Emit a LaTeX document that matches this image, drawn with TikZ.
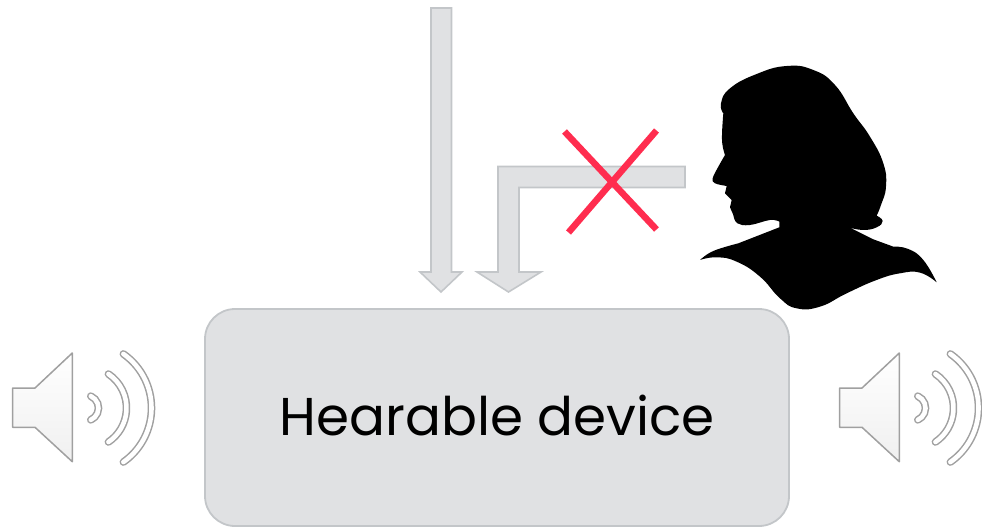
\documentclass[tikz,border=0pt]{standalone}
\usepackage{fontspec}
\setmainfont{Poppins}
\usepackage{xcolor}
\usepackage{tikz}
\usetikzlibrary{positioning}
\definecolor{devfill}{HTML}{E0E1E3}
\definecolor{devline}{HTML}{C3C6C9}
\definecolor{crossred}{HTML}{FF2D4F}
\definecolor{spkline}{HTML}{A0A0A0}

\begin{document}
\begin{tikzpicture}[
    x=1pt, y=-1pt,
    device/.style={rectangle, rounded corners=30pt, draw=devline, fill=devfill, line width=1.8pt,
                   minimum width=584pt, minimum height=217pt, align=center, text depth=5pt,
                   font=\fontsize{53.2}{62}\selectfont},
    blockarrow/.style={draw=devline, fill=devfill, line width=1.6pt, line join=miter},
    crossline/.style={draw=crossred, line width=6.5pt},
    speaker/.pic={
        \draw[draw=spkline, line width=1.5pt, line join=round, top color=white, bottom color=black!6]
            (12.7,48) -- (35,48) -- (72.3,13) -- (72.3,121.7) -- (35,87.3) -- (12.7,87.3) -- cycle;
        \foreach \rad/\ang in {13/66, 41/56, 66/55} {
            \draw[spkline, line width=7.6pt, line cap=round]
                (85.5,68)++(-\ang:\rad) arc[start angle=-\ang, end angle=\ang, radius=\rad];
            \draw[white, line width=4.6pt, line cap=round]
                (85.5,68)++(-\ang:\rad) arc[start angle=-\ang, end angle=\ang, radius=\rad];
        }
    }
  ]
    \useasboundingbox (0,0) rectangle (982,527);

    %% Block arrows
    \draw[blockarrow] (431,8) -- (451.5,8) -- (451.5,272) -- (462,272) -- (441,292)
        -- (420,272) -- (431,272) -- cycle;
    \draw[blockarrow] (685,166.5) -- (685,187.5) -- (519,187.5) -- (519,272) -- (541,272)
        -- (508.5,292) -- (477,272) -- (498,272) -- (498,166.5) -- cycle;

    %% Device
    \node[device] (dev) at (497,417.5) {Hearable device};

    %% Blocked path
    \coordinate (xa) at (564.5,131.5);
    \coordinate (xb) at (656.5,229.5);
    \coordinate (xc) at (656.5,130.5);
    \coordinate (xd) at (568.5,232.5);
    \draw[crossline] (xa) -- (xb);
    \draw[crossline] (xc) -- (xd);

    %% Speakers
    \pic (spkl) at (0,340) {speaker};
    \pic (spkr) at (827,340) {speaker};

    %% Talker
    \begin{scope}[shift={(680,50)}, x=0.3333pt, y=-0.3333pt]
      \fill[black] plot[smooth, tension=0.7] coordinates {(60,630) (100,603) (175,580)}
        -- (298,532) -- (298,515)
        -- plot[smooth, tension=0.7] coordinates {(298,515) (270,510) (210,525) (172,520) (160,495)}
        -- (150,472) -- (155,450) -- (135,430) -- (140,408)
        -- plot[smooth, tension=0.6] coordinates {(140,408) (105,400) (98,385) (115,350) (135,315)}
        -- plot[smooth, tension=0.7] coordinates {(135,315) (126,270) (130,190)}
        -- plot[smooth, tension=0.8] coordinates {(130,190) (123,160) (150,115) (230,72)
             (320,48) (400,60) (465,105) (520,190) (570,260) (610,340) (618,410) (603,465) (590,497)}
        -- plot[smooth, tension=0.8] coordinates {(590,497) (608,513) (590,532) (550,540) (510,533)}
        -- (580,568) -- (640,590)
        -- plot[smooth, tension=0.8] coordinates {(640,590) (685,597) (730,630) (770,697)}
        -- plot[smooth, tension=0.8] coordinates {(770,697) (720,668) (660,670) (590,690) (500,730)
             (420,770) (350,775) (300,745) (240,680) (170,635) (110,622) (60,630)}
        -- cycle;
    \end{scope}
\end{tikzpicture}
\end{document}
